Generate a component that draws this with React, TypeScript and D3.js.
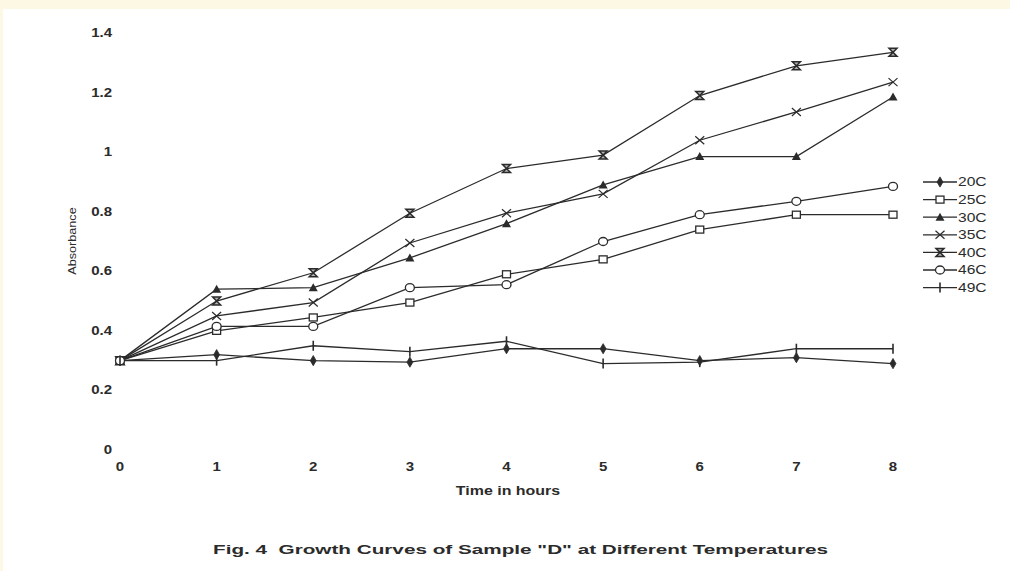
import React from "react";
import * as d3 from "d3";

// Time points (hours) and absorbance readings per incubation temperature
const hours = [0, 1, 2, 3, 4, 5, 6, 7, 8];
const xTicks = [0, 1, 2, 3, 4, 5, 6, 7, 8];
const yTicks = [0, 0.2, 0.4, 0.6, 0.8, 1, 1.2, 1.4];
const yTickLabels = ["0", "0.2", "0.4", "0.6", "0.8", "1", "1.2", "1.4"];

const series20C = [0.3, 0.32, 0.3, 0.295, 0.34, 0.34, 0.3, 0.31, 0.29];
const series25C = [0.3, 0.4, 0.445, 0.495, 0.59, 0.64, 0.74, 0.79, 0.79];
const series30C = [0.3, 0.54, 0.545, 0.645, 0.76, 0.89, 0.985, 0.985, 1.185];
const series35C = [0.3, 0.45, 0.495, 0.695, 0.795, 0.86, 1.04, 1.135, 1.235];
const series40C = [0.3, 0.5, 0.595, 0.795, 0.945, 0.99, 1.19, 1.29, 1.335];
const series46C = [0.3, 0.415, 0.415, 0.545, 0.555, 0.7, 0.79, 0.835, 0.885];
const series49C = [0.3, 0.3, 0.35, 0.33, 0.365, 0.29, 0.295, 0.34, 0.34];

const seriesNames = ["20C", "25C", "30C", "35C", "40C", "46C", "49C"];
const seriesValues = [series20C, series25C, series30C, series35C, series40C, series46C, series49C];
const markerKinds = ["diamond", "square", "triangle", "cross", "hourglass", "circle", "tick"];

const caption = 'Fig. 4  Growth Curves of Sample "D" at Different Temperatures';

const INK = "#2b2b2b";
const FONT = "'Liberation Sans', Arial, sans-serif";

function Marker({ kind, x, y }: { kind: string; x: number; y: number }) {
  const t = `translate(${x},${y})`;
  switch (kind) {
    case "diamond":
      return <path transform={t} d={d3.symbol(d3.symbolDiamond, 30)()!} fill={INK} stroke={INK} strokeWidth={0.8} />;
    case "square":
      return <rect transform={t} x={-4} y={-3.5} width={8} height={7} fill="#fff" stroke={INK} strokeWidth={1.3} />;
    case "triangle":
      return <path transform={t} d="M0,-4.5L4.5,3.5L-4.5,3.5Z" fill={INK} />;
    case "cross":
      return <path transform={t} d="M-4.5,-4L4.5,4M-4.5,4L4.5,-4" stroke={INK} strokeWidth={1.2} fill="none" />;
    case "hourglass":
      return (
        <path transform={t} d="M-4,-4H4L-4,4H4Z" stroke={INK} strokeWidth={1.5} fill={INK} fillOpacity={0.35} strokeLinejoin="miter" />
      );
    case "circle":
      return <ellipse transform={t} rx={4.5} ry={4} fill="#fff" stroke={INK} strokeWidth={1.3} />;
    case "tick":
      return <path transform={t} d="M0,-5V5" stroke={INK} strokeWidth={1.6} />;
    default:
      return null;
  }
}

// Horizontally stretched lettering
function Label({
  x, y, text, size, weight = "normal", anchor = "middle", sx = 1.3, rotate = 0,
}: {
  x: number; y: number; text: string; size: number; weight?: string; anchor?: string; sx?: number; rotate?: number;
}) {
  return (
    <g transform={`translate(${x},${y}) rotate(${rotate}) scale(${sx},1)`}>
      <text
        x={0}
        y={0}
        fontFamily={FONT}
        fontSize={size}
        fontWeight={weight}
        fill={INK}
        textAnchor={anchor as any}
        dominantBaseline="central"
      >
        {text}
      </text>
    </g>
  );
}

export default function App() {
  const width = 1010;
  const height = 571;

  const x = d3.scaleLinear().domain([0, 8]).range([120, 893]);
  const y = d3.scaleLinear().domain([0, 1.4]).range([450, 33]);

  const line = d3
    .line<number>()
    .x((_, i) => x(hours[i]))
    .y((d) => y(d));

  const legendX = 923;
  const legendY0 = 182;
  const legendStep = 17.6;

  return (
    <svg
      width={width}
      height={height}
      style={{ position: "absolute", left: 0, top: 0, display: "block" }}
    >
      <rect x={0} y={0} width={width} height={height} fill="#fdf8e4" />
      <rect x={3} y={9} width={width - 3} height={height - 9} fill="#ffffff" />

      {/* y tick labels */}
      {yTicks.map((v, i) => (
        <Label key={`y${i}`} x={112} y={y(v)} text={yTickLabels[i]} size={12} anchor="end" weight="600" sx={1.25} />
      ))}

      {/* x tick labels */}
      {xTicks.map((t) => (
        <Label key={`x${t}`} x={x(t)} y={467} text={String(t)} size={12} weight="600" sx={1.25} />
      ))}

      {/* axis titles */}
      <Label x={72} y={241} text="Absorbance" size={11} rotate={-90} sx={1.15} />
      <Label x={508} y={491} text="Time in hours" size={12} weight="bold" sx={1.33} />

      {/* series lines */}
      {seriesValues.map((vals, si) => (
        <path key={`l${si}`} d={line(vals)!} fill="none" stroke={INK} strokeWidth={1.3} />
      ))}

      {/* series markers */}
      {seriesValues.map((vals, si) =>
        vals.map((v, i) => <Marker key={`m${si}-${i}`} kind={markerKinds[si]} x={x(hours[i])} y={y(v)} />)
      )}

      {/* legend */}
      {seriesNames.map((name, i) => {
        const ly = legendY0 + i * legendStep;
        return (
          <g key={`lg${i}`}>
            <line x1={legendX} x2={legendX + 34} y1={ly} y2={ly} stroke={INK} strokeWidth={1.3} />
            <Marker kind={markerKinds[i]} x={legendX + 17} y={ly} />
            <Label x={legendX + 35} y={ly} text={name} size={12} anchor="start" sx={1.3} />
          </g>
        );
      })}

      {/* caption */}
      <text
        x={213}
        y={549}
        fontFamily={FONT}
        fontSize={13.5}
        fontWeight="bold"
        fill={INK}
        dominantBaseline="central"
        textLength={615}
        lengthAdjust="spacingAndGlyphs"
        style={{ whiteSpace: "pre" }}
      >
        {caption}
      </text>
    </svg>
  );
}
